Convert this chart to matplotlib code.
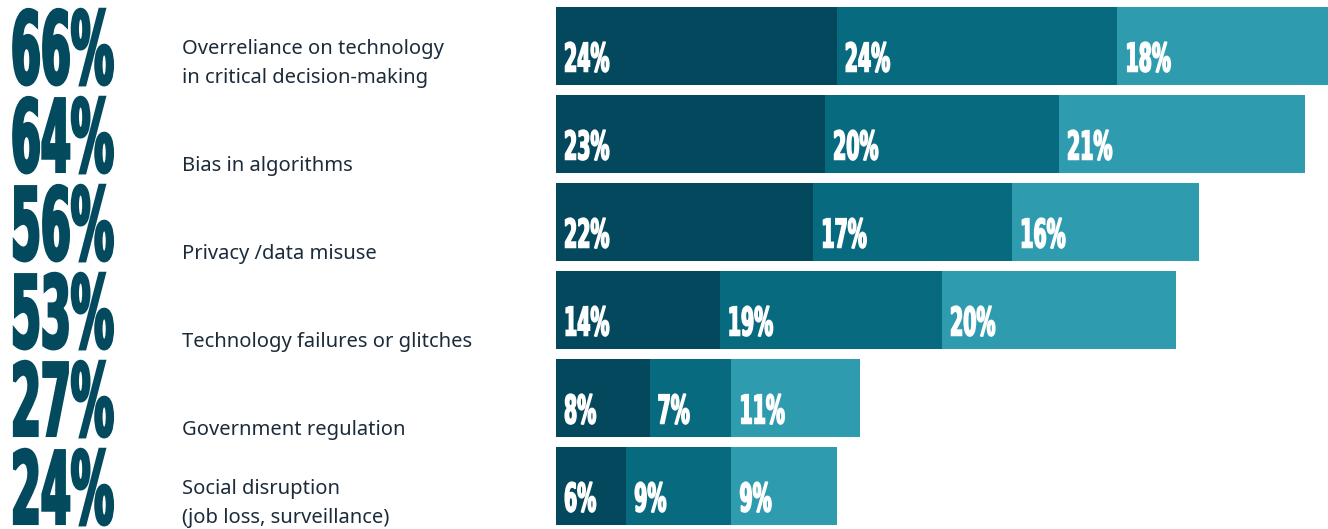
import matplotlib
matplotlib.use("Agg")
import matplotlib.pyplot as plt
from matplotlib.patheffects import AbstractPathEffect
from matplotlib.text import Text
from matplotlib.transforms import Affine2D, Bbox, ScaledTranslation, blended_transform_factory

# Data
categories = [
    "Overreliance on technology\nin critical decision-making",
    "Bias in algorithms",
    "Privacy /data misuse",
    "Technology failures or glitches",
    "Government regulation",
    "Social disruption\n(job loss, surveillance)",
]
totals = [66, 64, 56, 53, 27, 24]
seg_a = [24, 23, 22, 14, 8, 6]
seg_b = [24, 20, 17, 19, 7, 9]
seg_c = [18, 21, 16, 20, 11, 9]

colors = ["#03485C", "#076A7F", "#2F9BAF"]
number_color = "#044A5E"
label_color = "#1C2B3A"


class Condense(AbstractPathEffect):
    """Squeeze glyphs horizontally around the text anchor and embolden them."""

    def __init__(self, sx, lw=0.0):
        super().__init__()
        self.sx = sx
        self.lw = lw

    def draw_path(self, renderer, gc, tpath, affine, rgbFace=None):
        m = affine.get_matrix().copy()
        m[0, 0] *= self.sx
        m[0, 1] *= self.sx
        tr = Affine2D(m)
        if self.lw > 0:
            gc0 = renderer.new_gc()
            gc0.copy_properties(gc)
            gc0.set_linewidth(self.lw)
            gc0.set_foreground(rgbFace)
            gc0.set_joinstyle("miter")
            renderer.draw_path(gc0, tpath, tr, rgbFace)
            gc0.restore()
        else:
            renderer.draw_path(gc, tpath, tr, rgbFace)


class CondensedText(Text):
    """Text drawn horizontally compressed; its extent follows the compression."""

    def __init__(self, *args, sx=1.0, lw=0.0, **kwargs):
        super().__init__(*args, **kwargs)
        self._sx = sx
        self.set_path_effects([Condense(sx, lw)])

    def get_window_extent(self, renderer=None, dpi=None):
        bb = super().get_window_extent(renderer, dpi)
        return Bbox.from_extents(bb.x0, bb.y0, bb.x0 + bb.width * self._sx, bb.y1)


W, H, DPI = 1328, 529, 100
fig = plt.figure(figsize=(W / DPI, H / DPI), dpi=DPI)
fig.patch.set_facecolor("white")

bar_left_px = 556
ax = fig.add_axes([bar_left_px / W, 0, 1 - bar_left_px / W, 1])
ax.set_xlim(0, max(totals))
pitch_px = 88
first_center_px = 46
ax.set_ylim((H - first_center_px) / pitch_px, -first_center_px / pitch_px)
ax.axis("off")

bar_h = 78 / pitch_px
rows = list(range(len(categories)))
num_family = ["DejaVu Sans"]

left = [0] * len(rows)
for vals, col in zip([seg_a, seg_b, seg_c], colors):
    ax.barh(rows, vals, left=left, height=bar_h, color=col, linewidth=0)
    tr = ax.transData + ScaledTranslation(8 / DPI, 0, fig.dpi_scale_trans)
    for r, v, l in zip(rows, vals, left):
        ax.add_artist(CondensedText(
            l, r + bar_h / 2 - 13.5 / pitch_px, f"{v}%", transform=tr,
            ha="left", va="baseline", color="white", fontsize=28.5,
            fontweight="bold", family=num_family, sx=0.48, lw=1.1))
    left = [a + b for a, b in zip(left, vals)]

# Totals and category labels on the left
blend = blended_transform_factory(fig.transFigure, ax.transData)
for r, tot, cat in zip(rows, totals, categories):
    bottom = r + bar_h / 2
    fig.add_artist(CondensedText(
        11 / W, bottom - 1.5 / pitch_px, f"{tot}%", transform=blend,
        ha="left", va="baseline", color=number_color, fontsize=72,
        fontweight="bold", family=num_family, sx=0.43, lw=2.2))
    lines = cat.split("\n")
    for k, line in enumerate(reversed(lines)):
        y = bottom - (2 + 29 * k) / pitch_px
        fig.text(182 / W, y, line, transform=blend, ha="left", va="baseline",
                 color=label_color, fontsize=14.5, family=["Noto Sans", "DejaVu Sans"])

fig.savefig("out.png", dpi=DPI, facecolor="white")
